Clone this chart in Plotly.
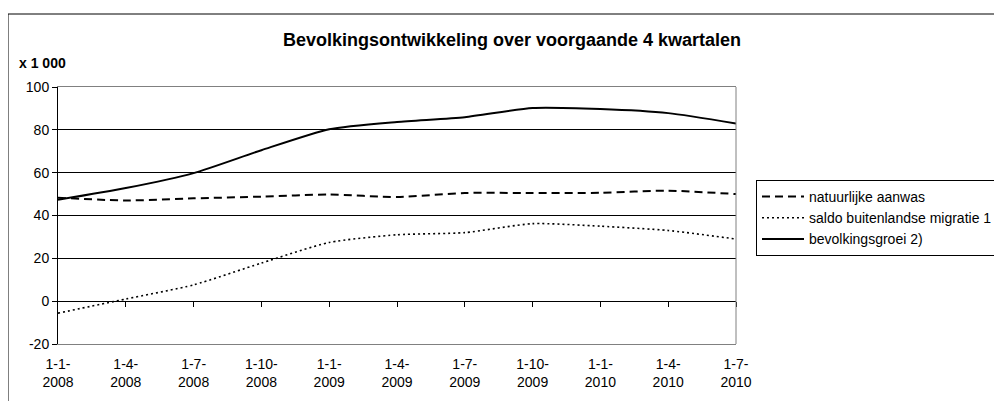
import plotly.graph_objects as go

# ---- data ----
quarters = ["1-1-<br>2008", "1-4-<br>2008", "1-7-<br>2008", "1-10-<br>2008",
            "1-1-<br>2009", "1-4-<br>2009", "1-7-<br>2009", "1-10-<br>2009",
            "1-1-<br>2010", "1-4-<br>2010", "1-7-<br>2010"]
natuurlijke_aanwas = [48.3, 47.0, 48.0, 48.8, 49.8, 48.6, 50.5, 50.5, 50.6, 51.6, 50.0]
saldo_migratie = [-5.6, 1.0, 7.6, 17.8, 27.4, 31.0, 32.0, 36.2, 35.0, 33.0, 29.0]
bevolkingsgroei = [47.3, 52.8, 59.8, 70.5, 80.3, 83.7, 85.9, 90.2, 89.7, 87.8, 83.0]
y_ticks = [-20, 0, 20, 40, 60, 80, 100]
y_tick_text = ["-20", "0", "20", "40", "60", "80", "100"]

FONT = "Liberation Sans, Arial, sans-serif"
idx = list(range(len(quarters)))

# page has an 8px body margin: plot area on page 58..736 x 87..344
OFF = 8
L, R, T, B = 58 - OFF, 736 - OFF, 87 - OFF, 344 - OFF
PW, PH = R - L, B - T

fig = go.Figure()
fig.add_trace(go.Scatter(x=idx, y=natuurlijke_aanwas, name="natuurlijke aanwas",
                         mode="lines", line=dict(color="black", width=2, dash="8px,5px", shape="spline", smoothing=0.6)))
fig.add_trace(go.Scatter(x=idx, y=saldo_migratie, name="saldo buitenlandse migratie 1",
                         mode="lines", line=dict(color="black", width=1.6, dash="2px,3px", shape="spline", smoothing=0.6)))
fig.add_trace(go.Scatter(x=idx, y=bevolkingsgroei, name="bevolkingsgroei 2)",
                         mode="lines", line=dict(color="black", width=2, shape="spline", smoothing=0.6)))
# invisible trace to carry the tick-mark axis on the zero line
fig.add_trace(go.Scatter(x=idx, y=bevolkingsgroei, xaxis="x2", mode="lines",
                         line=dict(width=0), opacity=0, showlegend=False, hoverinfo="skip"))

fig.update_layout(
    width=1002, height=401,
    margin=dict(l=L, r=1002 - R, t=T, b=401 - B, autoexpand=False),
    paper_bgcolor="white", plot_bgcolor="white",
    font=dict(family=FONT, color="black", size=14),
    title=dict(text="<b>Bevolkingsontwikkeling over voorgaande 4 kwartalen</b>",
               font=dict(family=FONT, size=18, color="black"),
               xref="paper", x=(512 - 58) / 678, xanchor="center",
               yref="container", y=1 - (40 - OFF) / 401, yanchor="middle"),
    xaxis=dict(range=[0, 10], tickvals=idx, ticktext=quarters, ticks="",
               showgrid=False, zeroline=False, showline=True, linecolor="#808080",
               linewidth=1, mirror=True, tickfont=dict(size=14, family=FONT),
               ticklabelstandoff=7),
    xaxis2=dict(range=[0, 10], overlaying="x", anchor="free", position=20 / 120,
                tickvals=idx[1:], ticks="outside", ticklen=5, tickcolor="black",
                showticklabels=False, showgrid=False, zeroline=False, showline=False),
    yaxis=dict(range=[-20, 100], tickvals=y_ticks, ticktext=y_tick_text,
               ticks="outside", ticklen=5,
               tickcolor="black", showline=True, linecolor="black", linewidth=1,
               showgrid=True, gridcolor="black", gridwidth=1,
               zeroline=True, zerolinecolor="black", zerolinewidth=1,
               tickfont=dict(size=14, family=FONT)),
    legend=dict(x=(756 - 58) / 678, xanchor="left", y=(344 - 180) / 257, yanchor="top",
                bordercolor="black", borderwidth=1, bgcolor="white",
                font=dict(size=14, family=FONT), tracegroupgap=0, itemwidth=42),
    showlegend=True,
)

# right border of plot area (grey)
fig.add_shape(type="line", xref="paper", yref="paper", x0=1, x1=1, y0=0, y1=1,
              line=dict(color="#808080", width=1), layer="above")
# outer chart border (left and top visible)
fig.add_shape(type="rect", xref="paper", yref="paper",
              x0=(8 - 58) / 678, x1=1.5, y0=-0.5, y1=(344 - 14) / 257,
              line=dict(color="black", width=1), layer="below")

fig.add_annotation(text="<b>x 1 000</b>", xref="paper", yref="paper",
                   x=(17 - 58) / 678, xanchor="left", y=(344 - 63) / 257, yanchor="middle",
                   showarrow=False, font=dict(size=14, family=FONT, color="black"))

fig.write_html("out.html")
